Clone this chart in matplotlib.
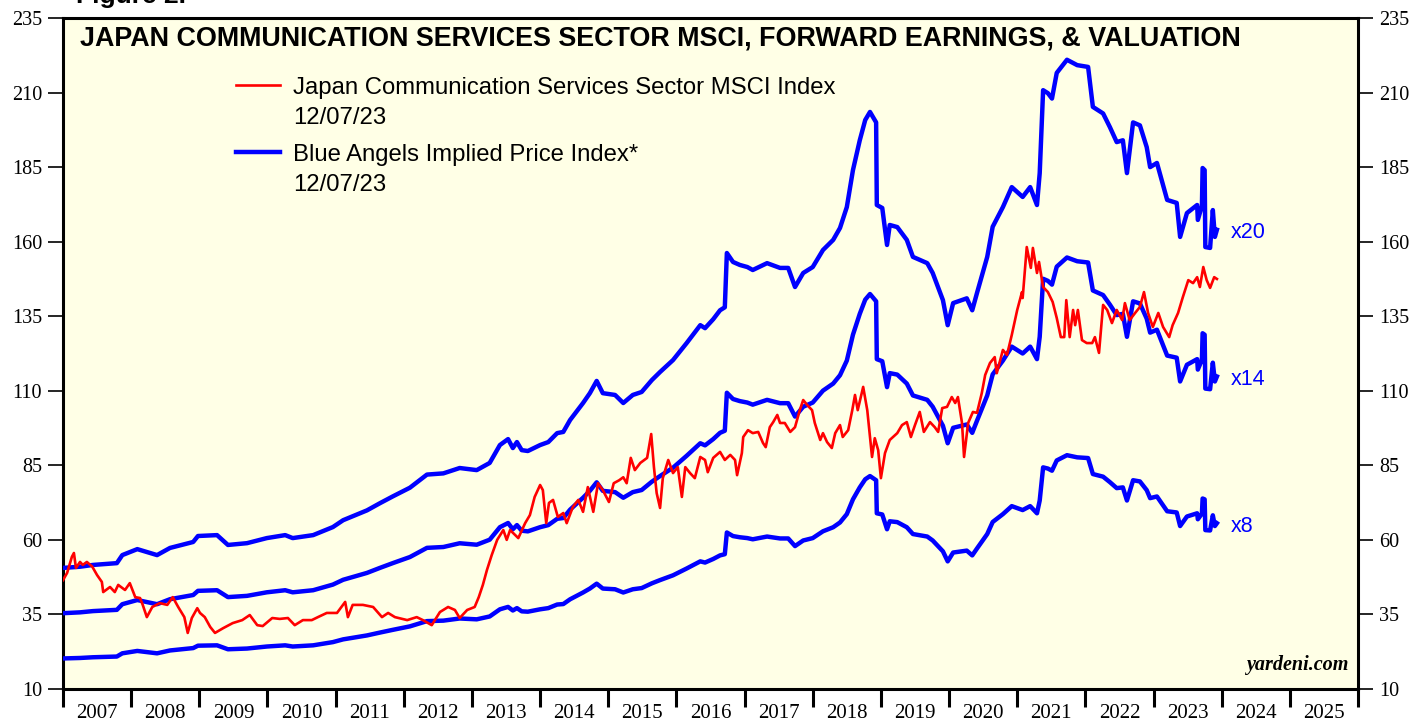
import matplotlib
matplotlib.use("Agg")
import matplotlib.pyplot as plt
import numpy as np
from matplotlib.lines import Line2D

# ---------------- data ----------------
# Japan Communication Services Sector MSCI Index (decimal year, value)
idx_years = [2007.00, 2007.06, 2007.13, 2007.16, 2007.19, 2007.25, 2007.29, 2007.35, 2007.43, 2007.50,
             2007.57, 2007.59, 2007.69, 2007.76, 2007.81, 2007.91, 2007.98, 2008.06, 2008.13, 2008.17,
             2008.23, 2008.31, 2008.42, 2008.53, 2008.61, 2008.69, 2008.78, 2008.83, 2008.89, 2008.97,
             2009.01, 2009.08, 2009.16, 2009.23, 2009.35, 2009.49, 2009.63, 2009.74, 2009.85, 2009.93,
             2010.07, 2010.18, 2010.30, 2010.40, 2010.52, 2010.65, 2010.74, 2010.87, 2011.02, 2011.14,
             2011.18, 2011.25, 2011.40, 2011.55, 2011.68, 2011.77, 2011.87, 2012.05, 2012.19, 2012.28,
             2012.41, 2012.53, 2012.65, 2012.75, 2012.82, 2012.93, 2013.04, 2013.10, 2013.16, 2013.22,
             2013.29, 2013.37, 2013.46, 2013.51, 2013.56, 2013.68, 2013.78, 2013.85, 2013.92, 2014.00,
             2014.04, 2014.09, 2014.13, 2014.19, 2014.26, 2014.34, 2014.39, 2014.48, 2014.56, 2014.63,
             2014.70, 2014.78, 2014.85, 2014.92, 2015.01, 2015.08, 2015.16, 2015.22, 2015.27, 2015.33,
             2015.39, 2015.47, 2015.57, 2015.63, 2015.67, 2015.71, 2015.76, 2015.80, 2015.88, 2015.95,
             2016.02, 2016.08, 2016.13, 2016.20, 2016.27, 2016.35, 2016.42, 2016.46, 2016.54, 2016.64,
             2016.71, 2016.79, 2016.86, 2016.89, 2016.96, 2016.98, 2017.05, 2017.12, 2017.20, 2017.27,
             2017.31, 2017.37, 2017.42, 2017.48, 2017.52, 2017.59, 2017.67, 2017.74, 2017.81, 2017.86,
             2017.92, 2017.99, 2018.03, 2018.11, 2018.15, 2018.21, 2018.28, 2018.33, 2018.40, 2018.44,
             2018.52, 2018.58, 2018.62, 2018.66, 2018.74, 2018.80, 2018.84, 2018.87, 2018.91, 2018.96,
             2019.00, 2019.06, 2019.13, 2019.24, 2019.31, 2019.38, 2019.44, 2019.50, 2019.57, 2019.63,
             2019.72, 2019.79, 2019.84, 2019.90, 2019.97, 2020.04, 2020.09, 2020.13, 2020.19, 2020.22,
             2020.28, 2020.35, 2020.41, 2020.48, 2020.53, 2020.60, 2020.67, 2020.70, 2020.79, 2020.85,
             2020.92, 2021.00, 2021.07, 2021.08, 2021.14, 2021.20, 2021.23, 2021.29, 2021.32, 2021.38,
             2021.45, 2021.52, 2021.58, 2021.64, 2021.69, 2021.72, 2021.77, 2021.82, 2021.85, 2021.89,
             2021.95, 2022.02, 2022.10, 2022.14, 2022.20, 2022.26, 2022.32, 2022.39, 2022.46, 2022.54,
             2022.58, 2022.65, 2022.73, 2022.80, 2022.86, 2022.92, 2022.99, 2023.07, 2023.14, 2023.23,
             2023.28, 2023.36, 2023.43, 2023.51, 2023.58, 2023.64, 2023.68, 2023.73, 2023.78, 2023.83,
             2023.89, 2023.93]
idx_values = [46.5, 48.9, 54.3, 55.6, 50.6, 52.6, 51.6, 52.6, 51.0, 48.2,
              45.9, 42.5, 44.2, 42.5, 44.9, 43.2, 45.5, 40.8, 40.5, 38.2,
              34.1, 37.5, 38.8, 38.2, 40.8, 37.5, 34.1, 28.8, 33.8, 37.1,
              35.5, 34.1, 30.8, 28.8, 30.4, 32.1, 33.1, 34.8, 31.4, 31.1,
              33.8, 33.5, 33.8, 31.4, 33.1, 33.1, 34.1, 35.5, 35.5, 39.2,
              34.1, 38.2, 38.2, 37.5, 34.1, 35.5, 34.1, 33.1, 34.1, 33.1,
              31.4, 35.8, 37.5, 36.5, 33.8, 36.5, 37.5, 40.8, 44.9, 49.9,
              54.9, 60.0, 63.3, 60.0, 63.3, 60.6, 65.6, 68.3, 74.4, 78.4,
              76.7, 65.6, 72.4, 73.4, 67.7, 69.0, 65.6, 71.0, 73.4, 69.4,
              77.7, 69.4, 79.0, 76.7, 72.7, 79.0, 80.0, 81.0, 79.0, 87.5,
              83.4, 85.8, 87.5, 95.5, 84.4, 75.7, 70.7, 80.7, 86.8, 82.4,
              84.4, 74.4, 84.4, 82.4, 80.7, 87.8, 86.8, 82.7, 87.5, 89.5,
              86.8, 88.5, 86.8, 81.7, 89.1, 94.5, 96.8, 95.8, 96.2, 92.5,
              91.1, 97.8, 99.5, 101.9, 99.2, 99.2, 96.2, 97.8, 103.5, 106.9,
              105.2, 103.5, 99.2, 93.5, 95.8, 92.8, 90.8, 95.8, 98.5, 94.5,
              96.8, 103.5, 108.6, 103.5, 111.3, 103.5, 94.5, 87.8, 94.1, 90.1,
              80.7, 89.1, 93.5, 95.8, 98.5, 99.5, 94.5, 98.5, 102.9, 96.2,
              99.5, 97.8, 96.2, 104.2, 104.6, 107.9, 105.9, 107.9, 99.2, 87.8,
              99.2, 102.9, 102.6, 109.2, 115.3, 119.3, 121.3, 115.9, 123.7, 122.0,
              128.7, 137.1, 143.1, 141.1, 158.2, 151.2, 157.9, 149.5, 153.2, 144.8,
              143.1, 139.8, 134.4, 128.0, 128.0, 140.4, 128.0, 137.1, 132.0, 137.1,
              127.0, 126.0, 126.0, 128.0, 122.7, 138.8, 137.1, 132.7, 137.1, 133.7,
              139.4, 133.7, 136.1, 138.1, 143.1, 136.1, 131.4, 136.1, 131.4, 128.0,
              132.0, 136.1, 141.4, 147.1, 146.1, 148.1, 144.8, 151.5, 147.1, 144.5,
              148.1, 147.5]

# Forward earnings (decimal year, value); implied price index = multiple x earnings
eps_years = [2007.00, 2007.25, 2007.44, 2007.79, 2007.87, 2008.09, 2008.38, 2008.57, 2008.91, 2008.98,
             2009.26, 2009.42, 2009.70, 2009.99, 2010.26, 2010.37, 2010.67, 2010.96, 2011.11, 2011.46,
             2011.65, 2011.84, 2012.09, 2012.34, 2012.58, 2012.82, 2013.07, 2013.26, 2013.41, 2013.53,
             2013.60, 2013.66, 2013.73, 2013.82, 2014.00, 2014.12, 2014.25, 2014.34, 2014.44, 2014.63,
             2014.73, 2014.83, 2014.92, 2015.10, 2015.22, 2015.36, 2015.49, 2015.64, 2015.76, 2015.95,
             2016.15, 2016.35, 2016.42, 2016.54, 2016.64, 2016.71, 2016.74, 2016.83, 2016.93, 2017.04,
             2017.12, 2017.33, 2017.52, 2017.64, 2017.74, 2017.86, 2018.00, 2018.15, 2018.30, 2018.40,
             2018.50, 2018.59, 2018.69, 2018.77, 2018.84, 2018.93, 2018.94, 2019.02, 2019.09, 2019.13,
             2019.24, 2019.38, 2019.47, 2019.68, 2019.76, 2019.91, 2019.98, 2020.06, 2020.26, 2020.34,
             2020.41, 2020.56, 2020.64, 2020.79, 2020.92, 2021.08, 2021.19, 2021.29, 2021.33, 2021.38,
             2021.45, 2021.51, 2021.58, 2021.73, 2021.88, 2022.04, 2022.11, 2022.26, 2022.36, 2022.46,
             2022.55, 2022.61, 2022.70, 2022.80, 2022.90, 2022.95, 2023.05, 2023.20, 2023.34, 2023.39,
             2023.49, 2023.64, 2023.65, 2023.71, 2023.72, 2023.75, 2023.76, 2023.83, 2023.87, 2023.90,
             2023.93]
eps_values = [2.530, 2.550, 2.580, 2.610, 2.745, 2.845, 2.745, 2.865, 2.965, 3.065,
              3.080, 2.915, 2.945, 3.030, 3.080, 3.030, 3.080, 3.215, 3.330, 3.495,
              3.615, 3.730, 3.875, 4.095, 4.115, 4.205, 4.170, 4.290, 4.590, 4.690,
              4.540, 4.640, 4.505, 4.490, 4.590, 4.640, 4.790, 4.810, 5.010, 5.295,
              5.460, 5.665, 5.460, 5.430, 5.295, 5.430, 5.480, 5.680, 5.815, 6.015,
              6.300, 6.600, 6.550, 6.700, 6.850, 6.900, 7.810, 7.660, 7.610, 7.575,
              7.525, 7.640, 7.560, 7.560, 7.240, 7.475, 7.575, 7.860, 8.030, 8.230,
              8.580, 9.200, 9.700, 10.040, 10.175, 10.000, 8.615, 8.565, 7.945, 8.280,
              8.245, 8.030, 7.745, 7.640, 7.475, 7.020, 6.600, 6.970, 7.050, 6.850,
              7.140, 7.745, 8.250, 8.580, 8.915, 8.750, 8.915, 8.615, 9.150, 10.540,
              10.490, 10.400, 10.830, 11.050, 10.960, 10.930, 10.260, 10.150, 9.920, 9.670,
              9.700, 9.150, 10.000, 9.950, 9.585, 9.250, 9.320, 8.700, 8.650, 8.080,
              8.480, 8.615, 8.365, 8.600, 9.235, 9.200, 7.910, 7.895, 8.530, 8.080,
              8.200]

multiples = [20, 14, 8]
multiple_labels = ["x20", "x14", "x8"]

year_labels = [str(y) for y in range(2007, 2026)]
yticks = list(range(10, 236, 25))

title = "JAPAN COMMUNICATION SERVICES SECTOR MSCI, FORWARD EARNINGS, & VALUATION"
legend_red = "Japan Communication Services Sector MSCI Index\n12/07/23"
legend_blue = "Blue Angels Implied Price Index*\n12/07/23"

# ---------------- figure ----------------
RED = "#ff0000"
BLUE = "#0000ff"
SERIF = "Liberation Serif"
SANS = "Liberation Sans"

fig = plt.figure(figsize=(14.27, 7.21), dpi=100)
ax = fig.add_axes([0.04415, 0.0444, 0.9075, 0.9306])
ax.set_facecolor("#ffffe6")

eps_x = np.array(eps_years)
eps_y = np.array(eps_values)
for m, lab in zip(multiples, multiple_labels):
    ax.plot(eps_x, eps_y * m, color=BLUE, lw=3.2, solid_joinstyle="round", zorder=3)
    ax.text(eps_x[-1] + 0.2, eps_y[-1] * m - 1.0, lab, color=BLUE, fontsize=15.5,
            family=SANS, va="center", ha="left")

ax.plot(idx_years, idx_values, color=RED, lw=1.9, zorder=4)

ax.set_xlim(2007, 2026)
ax.set_ylim(10, 235)

# y axis: both sides
ax.set_yticks(yticks)
ax.set_yticklabels([str(v) for v in yticks])
ax.tick_params(axis="y", which="major", direction="out", length=11, width=1.2,
               left=True, right=True, labelleft=True, labelright=True,
               labelsize=14.5, pad=4)
for lbl in ax.get_yticklabels():
    lbl.set_family(SERIF)

# x axis: ticks at year boundaries, labels at mid-year
years = np.arange(2007, 2027)
ax.set_xticks(years)
ax.set_xticklabels([""] * len(years))
ax.set_xticks(np.arange(2007, 2026) + 0.5, minor=True)
ax.set_xticklabels(year_labels, minor=True)
ax.tick_params(axis="x", which="major", direction="out", length=13, width=2.2)
ax.tick_params(axis="x", which="minor", length=0, labelsize=15, pad=10.5)
for lbl in ax.get_xticklabels(minor=True):
    lbl.set_family(SERIF)

for sp in ax.spines.values():
    sp.set_linewidth(2.2)
    sp.set_color("black")

# title
ax.text(0.013, 0.969, title, transform=ax.transAxes, fontsize=19.4, fontweight="bold",
        family=SANS, va="center", ha="left")

# partially clipped figure label
fig.text(0.053, 0.996, "Figure 2.", fontsize=19, fontweight="bold", family=SANS,
         va="baseline", ha="left")

# legend (manual)
LFS = 17.2
TXT_DY = -0.004
ax.add_line(Line2D([0.1336, 0.1676], [0.900, 0.900], transform=ax.transAxes,
                   color=RED, lw=1.9))
ax.text(0.1776, 0.900 + TXT_DY, legend_red.split("\n")[0], transform=ax.transAxes,
        fontsize=LFS, family=SANS, va="center", ha="left")
ax.text(0.1776, 0.8554 + TXT_DY, legend_red.split("\n")[1], transform=ax.transAxes,
        fontsize=LFS, family=SANS, va="center", ha="left")
ax.add_line(Line2D([0.1336, 0.1676], [0.8003, 0.8003], transform=ax.transAxes,
                   color=BLUE, lw=3.2))
ax.text(0.1776, 0.8003 + TXT_DY, legend_blue.split("\n")[0], transform=ax.transAxes,
        fontsize=LFS, family=SANS, va="center", ha="left")
ax.text(0.1776, 0.7556 + TXT_DY, legend_blue.split("\n")[1], transform=ax.transAxes,
        fontsize=LFS, family=SANS, va="center", ha="left")

# watermark
ax.text(0.9925, 0.021, "yardeni.com", transform=ax.transAxes, fontsize=14.5,
        fontweight="bold", fontstyle="italic", family=SERIF, ha="right", va="bottom")

fig.savefig("out.png", dpi=100, facecolor="white")
